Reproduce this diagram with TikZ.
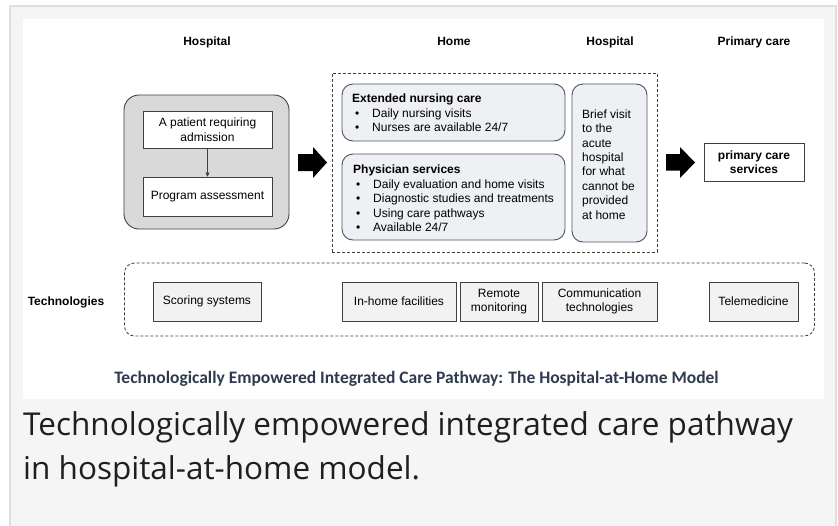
\documentclass[tikz,border=0pt]{standalone}
\usepackage{fontspec}
\setmainfont{Liberation Sans}
\newfontfamily\titlefont{Carlito}
\newfontfamily\capfont{Open Sans}
\usetikzlibrary{shapes.arrows,arrows.meta}
\definecolor{cardbg}{HTML}{F5F5F5}
\definecolor{cardline}{HTML}{DFDFDF}
\definecolor{boxline}{HTML}{404040}
\definecolor{roundfill}{HTML}{EEF0F4}
\definecolor{roundline}{HTML}{4A5568}
\definecolor{grayfill}{HTML}{D9D9D9}
\definecolor{techfill}{HTML}{F2F2F2}
\definecolor{titlecol}{HTML}{2E3B4E}
\tikzset{
  txt/.style={font=\fontsize{12}{14.5}\selectfont, inner sep=0pt},
  hdr/.style={font=\fontsize{12}{14.5}\selectfont\bfseries, inner sep=0pt},
  plainbox/.style={draw=boxline, line width=0.9pt, fill=white, inner sep=0pt, align=center, font=\fontsize{12}{14.5}\selectfont},
  techbox/.style={draw=boxline, line width=0.9pt, fill=techfill, inner sep=0pt, align=center, font=\fontsize{12}{14}\selectfont},
  softbox/.style={draw=roundline, line width=0.9pt, fill=roundfill, rounded corners=11pt, inner sep=0pt},
  dashbox/.style={draw=boxline, line width=0.8pt, dash pattern=on 3pt off 2pt},
  blockarrow/.style={fill=black, draw=none},
  captxt/.style={inner sep=0pt, anchor=base west, font=\capfont\fontsize{31.5}{44}\selectfont, text=black!88}
}
\newcommand{\bul}{\hspace*{3pt}\makebox[17pt][l]{\textbullet}}
\begin{document}
\begin{tikzpicture}[x=1pt,y=-1pt]
\useasboundingbox (0,0) rectangle (838,525);
\fill[white] (0,0) rectangle (838,525);
% card
\draw[cardline, line width=2pt, fill=cardbg] (10,5.5) -- (835.5,5.5) -- (835.5,530) -- (10,530) -- cycle;
\fill[white] (22.5,19) rectangle (824,399);

% column headings
\node[hdr, anchor=base] (hHosp1) at (207,45) {Hospital};
\node[hdr, anchor=base] (hHome) at (454,45) {Home};
\node[hdr, anchor=base] (hHosp2) at (610,45) {Hospital};
\node[hdr, anchor=base] (hPrim) at (754,45) {Primary care};

% left hospital group
\node[draw=boxline, line width=0.9pt, fill=grayfill, rounded corners=15pt, minimum width=165pt, minimum height=134pt, inner sep=0pt] (grp) at (206.5,162) {};
\node[plainbox, minimum width=129pt, minimum height=37pt] (patient) at (207.5,129.5) {A patient requiring\\admission};
\node[plainbox, minimum width=129pt, minimum height=39pt] (program) at (207.5,196.5) {Program assessment};
\draw[boxline, line width=0.5pt, -{Triangle[length=4pt,width=4pt]}] (patient) -- (program);

% arrow 1
\fill[blockarrow] (298,154) -- (313,154) -- (313,147) -- (327,162.5) -- (313,178) -- (313,171) -- (298,171) -- cycle;

% home dashed area
\node[dashbox, minimum width=325pt, minimum height=179pt, inner sep=0pt] (homearea) at (494.5,162.5) {};
\node[softbox, minimum width=223pt, minimum height=57pt] (nurse) at (453.5,112.5) {};
\node[txt, anchor=north west, align=left] (nursetxt) at (352,94) {\bfseries Extended nursing care\\\bul Daily nursing visits\\\bul Nurses are available 24/7};
\node[softbox, minimum width=223pt, minimum height=86pt] (phys) at (453.5,197) {};
\node[txt, anchor=north west, align=left] (phystxt) at (353,165) {\bfseries Physician services\\\bul Daily evaluation and home visits\\\bul Diagnostic studies and treatments\\\bul Using care pathways\\\bul Available 24/7};
\node[softbox, minimum width=75pt, minimum height=158pt] (brief) at (609.5,163) {};
\node[txt, anchor=north west, align=left, font=\fontsize{12}{14.4}\selectfont] (brieftxt) at (582,109.5) {Brief visit\\to the\\acute\\hospital\\for what\\cannot be\\provided\\at home};

% arrow 2
\fill[blockarrow] (666,154) -- (680,154) -- (680,147) -- (695,162.5) -- (680,178) -- (680,170.5) -- (666,170.5) -- cycle;

\node[plainbox, minimum width=100pt, minimum height=38pt, font=\fontsize{12}{13.5}\selectfont\bfseries] (prim) at (754,162) {primary care\\services};

% technologies
\node[hdr] (tech) at (66,302) {Technologies};
\node[dashbox, rounded corners=10pt, minimum width=690pt, minimum height=73pt, inner sep=0pt] (techarea) at (469.5,299.5) {};
\node[techbox, minimum width=108pt, minimum height=39pt] (score) at (207,301.5) {Scoring systems};
\node[techbox, minimum width=114pt, minimum height=39pt] (inhome) at (399,301.5) {In-home facilities};
\node[techbox, minimum width=78pt, minimum height=39pt] (remote) at (499,301.5) {Remote\\monitoring};
\node[techbox, minimum width=115pt, minimum height=39pt] (comm) at (599.5,301.5) {Communication\\technologies};
\node[techbox, minimum width=89pt, minimum height=39pt] (tele) at (753.5,301.5) {Telemedicine};

% figure title
\node[inner sep=0pt, anchor=base, text=titlecol, font=\titlefont\fontsize{17.5}{20}\selectfont\bfseries] (ftitle) at (416.5,383) {Technologically Empowered Integrated Care Pathway: The Hospital-at-Home Model};

% caption
\node[captxt] (cap1) at (23,435) {Technologically empowered integrated care pathway};
\node[captxt] (cap2) at (23,479) {in hospital-at-home model.};
\end{tikzpicture}
\end{document}
